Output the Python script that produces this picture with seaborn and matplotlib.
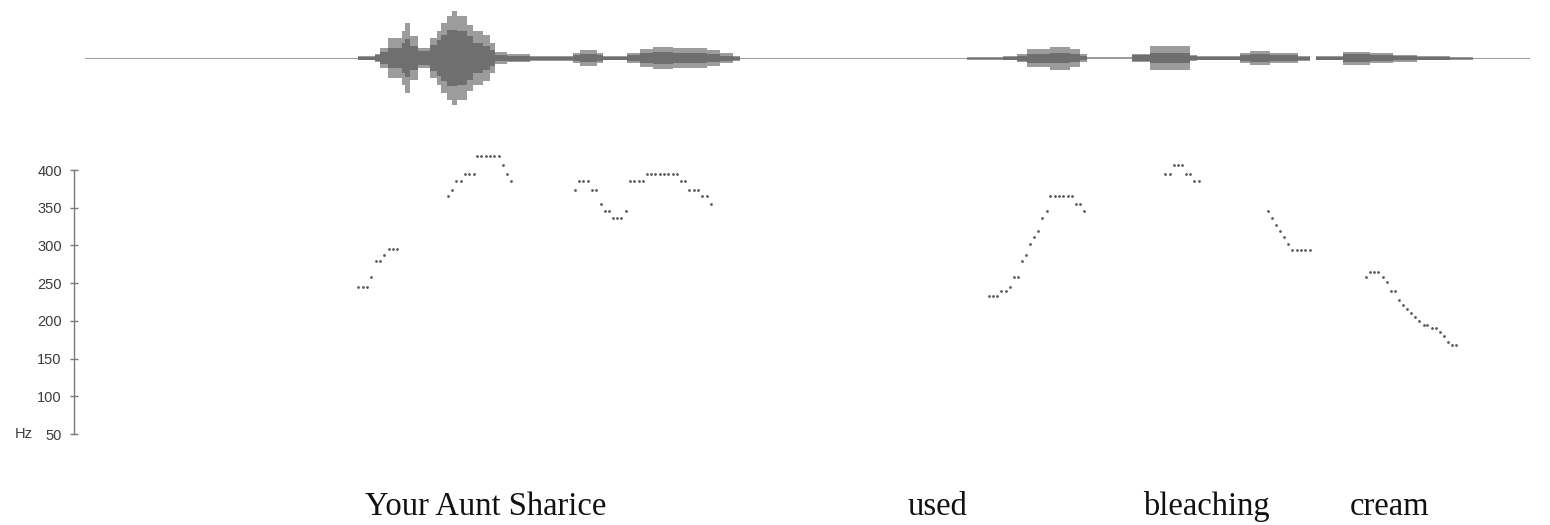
import numpy as np
import pandas as pd
import matplotlib
matplotlib.use("Agg")
import matplotlib.pyplot as plt
import matplotlib.transforms as mtransforms
import seaborn as sns

# ---------------------------------------------------------------------------
# Waveform envelope: piecewise-constant blocks (start time in s, amplitude
# normalised to the loudest peak).  Outer = peak envelope, inner = RMS.
# ---------------------------------------------------------------------------
env_t = [0.000, 0.631, 0.669, 0.681, 0.700, 0.731, 0.738, 0.750, 0.769, 0.796,
         0.812, 0.822, 0.835, 0.846, 0.858, 0.881, 0.896, 0.919, 0.935, 0.946,
         0.973, 1.027, 1.127, 1.142, 1.181, 1.196, 1.250, 1.281, 1.311, 1.358,
         1.435, 1.465, 1.496, 1.512, 2.035, 2.118, 2.151, 2.174, 2.227, 2.273,
         2.296, 2.312, 2.416, 2.458, 2.550, 2.566, 2.665, 2.688, 2.735, 2.799,
         2.827, 2.841, 2.903, 2.965, 3.018, 3.074, 3.150, 3.203, 3.335]
env_peak = [0.015, 0.043, 0.085, 0.213, 0.426, 0.574, 0.745, 0.468, 0.213, 0.426,
            0.574, 0.745, 0.894, 1.000, 0.894, 0.702, 0.574, 0.489, 0.319, 0.128,
            0.085, 0.053, 0.106, 0.170, 0.106, 0.043, 0.106, 0.191, 0.234, 0.213,
            0.170, 0.106, 0.053, 0.015, 0.028, 0.043, 0.085, 0.191, 0.245, 0.191,
            0.085, 0.022, 0.085, 0.255, 0.064, 0.043, 0.106, 0.149, 0.106, 0.053,
            0.000, 0.043, 0.138, 0.106, 0.074, 0.043, 0.028, 0.015, 0.015]
env_rms = [0.000, 0.032, 0.064, 0.128, 0.213, 0.319, 0.404, 0.255, 0.149, 0.277,
           0.383, 0.489, 0.596, 0.596, 0.574, 0.468, 0.319, 0.255, 0.170, 0.064,
           0.053, 0.032, 0.064, 0.085, 0.064, 0.032, 0.064, 0.106, 0.128, 0.106,
           0.085, 0.053, 0.032, 0.000, 0.012, 0.032, 0.053, 0.096, 0.106, 0.085,
           0.043, 0.000, 0.064, 0.106, 0.043, 0.032, 0.064, 0.085, 0.064, 0.032,
           0.000, 0.032, 0.085, 0.064, 0.043, 0.026, 0.012, 0.000, 0.000]

# ---------------------------------------------------------------------------
# Pitch track (F0 in Hz), one list pair per voiced stretch
# ---------------------------------------------------------------------------
f0_your_t = [0.631, 0.641, 0.651, 0.661, 0.671, 0.681, 0.691, 0.701, 0.711, 0.721]
f0_your_hz = [245, 245, 245, 258, 280, 280, 287, 295, 295, 295]

f0_aunt_t = [0.837, 0.847, 0.857, 0.867, 0.877, 0.887, 0.897, 0.905, 0.915, 0.925,
             0.935, 0.945, 0.955, 0.964, 0.974, 0.984]
f0_aunt_hz = [365, 374, 385, 385, 395, 395, 395, 418, 418, 418,
              418, 418, 418, 406, 395, 385]

f0_sharice_t = [1.131, 1.140, 1.150, 1.160, 1.170, 1.180, 1.190, 1.199, 1.209, 1.218,
                1.228, 1.238, 1.248, 1.258, 1.268, 1.278, 1.288, 1.296, 1.306, 1.316,
                1.326, 1.336, 1.346, 1.356, 1.366, 1.375, 1.385, 1.395, 1.405, 1.415,
                1.425, 1.435, 1.444]
f0_sharice_hz = [374, 385, 385, 385, 374, 374, 355, 346, 346, 336,
                 336, 336, 346, 385, 385, 385, 385, 395, 395, 395,
                 395, 395, 395, 395, 395, 385, 385, 374, 374, 374,
                 365, 365, 355]

f0_used_t = [2.086, 2.095, 2.105, 2.115, 2.125, 2.134, 2.143, 2.153, 2.162, 2.172,
             2.181, 2.190, 2.199, 2.209, 2.219, 2.228, 2.238, 2.248, 2.258, 2.268,
             2.278, 2.286, 2.296, 2.305]
f0_used_hz = [233, 233, 233, 239, 239, 245, 258, 258, 279, 287,
              302, 311, 319, 336, 346, 365, 365, 365, 365, 365,
              365, 355, 355, 346]

f0_bleach_t = [2.493, 2.503, 2.512, 2.522, 2.532, 2.541, 2.551, 2.560, 2.570]
f0_bleach_hz = [395, 395, 406, 406, 406, 395, 395, 385, 385]

f0_ching_t = [2.729, 2.739, 2.748, 2.758, 2.768, 2.777, 2.786, 2.796, 2.806, 2.816, 2.826]
f0_ching_hz = [346, 336, 327, 319, 311, 302, 294, 294, 294, 294, 294]

f0_cream_t = [2.956, 2.965, 2.975, 2.985, 2.995, 3.004, 3.013, 3.023, 3.032, 3.042,
              3.051, 3.061, 3.070, 3.079, 3.089, 3.098, 3.108, 3.118, 3.127, 3.136,
              3.145, 3.155, 3.165]
f0_cream_hz = [258, 265, 265, 265, 258, 252, 239, 239, 227, 221,
               216, 210, 205, 200, 195, 195, 190, 190, 185, 180,
               172, 168, 168]

# y-axis ticks
hz_ticks = [50, 100, 150, 200, 250, 300, 350, 400]

# transcript words and where each one starts (s)
words = ["Your Aunt Sharice", "used", "bleaching", "cream"]
word_start = [0.646, 1.899, 2.442, 2.919]

# ---------------------------------------------------------------------------
sns.set_theme(style="white")
plt.rcParams["font.family"] = ["Liberation Sans", "DejaVu Sans"]

W, H = 1550, 525
fig = plt.figure(figsize=(W / 100, H / 100), dpi=100)
fig.patch.set_facecolor("white")

px_per_s = 433.33
t_end = 1445 / px_per_s


def px_axes(left, top, right, bottom):
    return fig.add_axes([left / W, 1 - bottom / H, (right - left) / W, (bottom - top) / H])


# --- waveform -------------------------------------------------------------
ax_w = px_axes(85, 0, 1530, 116.6)
ax_w.set_xlim(0, t_end)
ax_w.set_ylim(-1.2404, 1.2404)
et = np.array(env_t)
ep = np.append(env_peak[:-1], env_peak[-2])
er = np.append(env_rms[:-1], env_rms[-2])
ax_w.fill_between(et, -ep, ep, step="post", color="#9c9c9c", linewidth=0)
ax_w.fill_between(et, -er, er, step="post", color="#6f6f6f", linewidth=0)
ax_w.axis("off")

# --- pitch track ----------------------------------------------------------
segments = [
    ("Your", f0_your_t, f0_your_hz),
    ("Aunt", f0_aunt_t, f0_aunt_hz),
    ("Sharice", f0_sharice_t, f0_sharice_hz),
    ("used", f0_used_t, f0_used_hz),
    ("bleach", f0_bleach_t, f0_bleach_hz),
    ("ching", f0_ching_t, f0_ching_hz),
    ("cream", f0_cream_t, f0_cream_hz),
]
f0 = pd.concat(
    [pd.DataFrame({"segment": name, "time": t, "f0": hz}) for name, t, hz in segments],
    ignore_index=True,
)

ax_p = px_axes(74, 150, 1530, 460)
hz_per_px = 350 / 264
ax_p.set_xlim(-11 / px_per_s, t_end)
ax_p.set_ylim(50 - 26 * hz_per_px, 400 + 20 * hz_per_px)
sns.scatterplot(data=f0, x="time", y="f0", ax=ax_p, color="#595959", s=4,
                linewidth=0, legend=False)

for side in ("top", "right", "bottom"):
    ax_p.spines[side].set_visible(False)
ax_p.spines["left"].set_bounds(50, 400)
ax_p.spines["left"].set_color("#7a7a7a")
ax_p.spines["left"].set_linewidth(1.0)
ax_p.set_yticks(hz_ticks)
ax_p.set_yticklabels([str(v) for v in hz_ticks])
ax_p.tick_params(axis="y", direction="inout", length=5.5, width=1.0,
                 color="#7a7a7a", labelcolor="#3c3c3c", labelsize=10.5, pad=6,
                 left=True)
ax_p.set_xticks([])
ax_p.set_xlabel("")
ax_p.set_ylabel("")
ax_p.patch.set_alpha(0)

# unit label beside the lowest tick
ax_p.text(33 / W, 50, "Hz", transform=mtransforms.blended_transform_factory(fig.transFigure, ax_p.transData),
          ha="right", va="center", fontsize=10.5, color="#3c3c3c")

# --- transcript -----------------------------------------------------------
word_tf = mtransforms.blended_transform_factory(ax_p.transData, fig.transFigure)
for w, t0 in zip(words, word_start):
    ax_p.text(t0, 1 - 515 / H, w, transform=word_tf, ha="left", va="baseline",
              fontsize=23.5, family=["Liberation Serif", "DejaVu Serif"], color="#111111",
              clip_on=False)

fig.savefig("out.png", dpi=100, facecolor="white")
